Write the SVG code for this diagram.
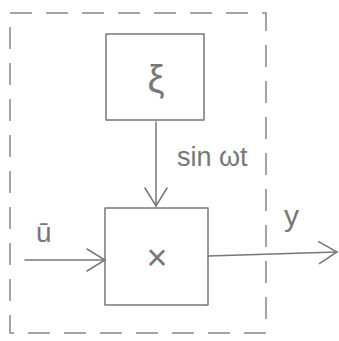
<svg xmlns="http://www.w3.org/2000/svg" width="339" height="341" viewBox="0 0 339 341">
<style>
.ln{fill:none;stroke:#777;stroke-width:1.5;stroke-linecap:round;stroke-linejoin:round}
.dash{fill:none;stroke:#888;stroke-width:1.5;stroke-dasharray:22 14}
.t{font-family:"Liberation Sans",Arial,sans-serif;fill:#777}
</style>
<defs>
<marker id="ah" viewBox="0 0 20 24" refX="19" refY="12" markerWidth="20" markerHeight="24" markerUnits="userSpaceOnUse" orient="auto">
<path d="M1,1 L19,12 L1,23" fill="none" stroke="#777" stroke-width="1.5" stroke-linecap="round"/>
</marker>
</defs>
<rect id="boundary" class="dash" x="10" y="13" width="256" height="320"/>
<g id="connectors">
<path id="c-sin" class="ln" d="M156,122 L156,206" marker-end="url(#ah)"/>
<path id="c-u" class="ln" d="M25,260 L105,260" marker-end="url(#ah)"/>
<path id="c-y" class="ln" d="M208,256 L337,252" marker-end="url(#ah)"/>
</g>
<g id="node-xi">
<rect class="ln" x="106" y="34" width="98" height="86"/>
<text class="t" x="156" y="92" font-size="38" text-anchor="middle">ξ</text>
</g>
<g id="node-x">
<rect class="ln" x="105" y="208" width="103" height="97"/>
<text class="t" x="157" y="270" font-size="36" text-anchor="middle">×</text>
</g>
<text class="t" x="177" y="166" font-size="27">sin ωt</text>
<text class="t" x="36" y="242" font-size="28">ū</text>
<text class="t" x="284" y="226" font-size="30">y</text>
</svg>
